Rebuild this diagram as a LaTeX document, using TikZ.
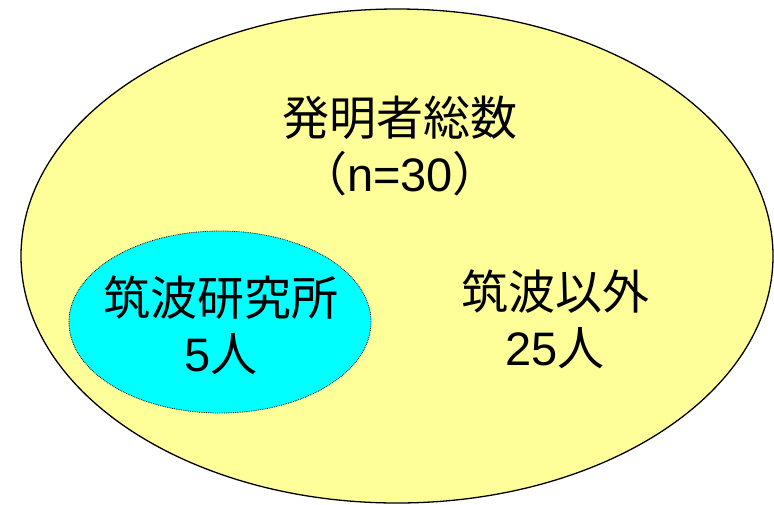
\documentclass[tikz,border=0pt]{standalone}
\usepackage{fontspec}
\setmainfont{Liberation Sans}
\newfontfamily\cjk{Noto Sans CJK JP}
\usetikzlibrary{shapes.geometric}
\definecolor{paleyellow}{HTML}{FFFF99}
\definecolor{aqua}{HTML}{00FFFF}
\tikzset{
  label text/.style={align=center, inner sep=0pt, font=\fontsize{47}{56}\selectfont},
}
\begin{document}
\begin{tikzpicture}[x=1pt, y=-1pt]
\useasboundingbox (0,0) rectangle (774,504);
\node (total) [ellipse, draw=black, line width=1.3pt, fill=paleyellow, inner sep=0pt,
  minimum width=752pt, minimum height=494pt] at (397,256) {};
\node (tsukuba) [ellipse, draw=black, densely dotted, line width=0.8pt, fill=aqua, inner sep=0pt,
  minimum width=302pt, minimum height=182pt] at (220,322) {};
\node (title) [label text] at (400,146) {{\cjk 発明者総数}\\{\cjk （}n=30{\cjk ）}};
\node (inside) [label text] at (221,325) {{\cjk 筑波研究所}\\5{\cjk 人}};
\node (outside) [label text] at (555,319) {{\cjk 筑波以外}\\25{\cjk 人}};
\end{tikzpicture}
\end{document}
